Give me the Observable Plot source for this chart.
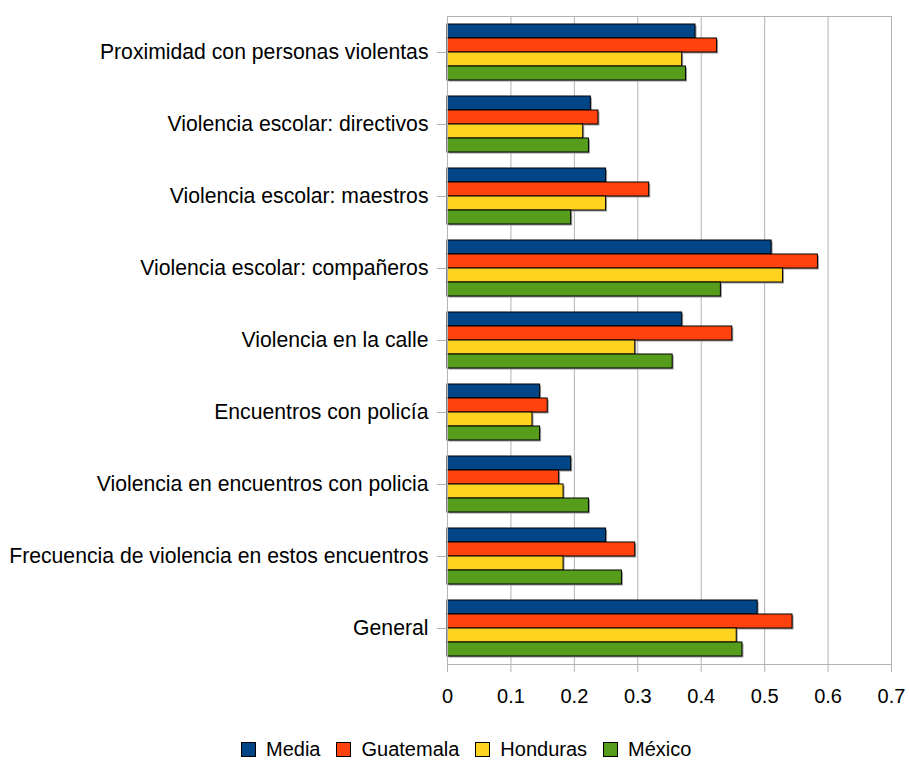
<!DOCTYPE html>
<html>
<head>
<meta charset="utf-8">
<script src="https://cdn.jsdelivr.net/npm/d3@7"></script>
<script src="https://cdn.jsdelivr.net/npm/@observablehq/plot@0.6"></script>
<style>
  body { margin: 0; background: #fff; font-family: "Liberation Sans", Arial, sans-serif; }
  #chart { width: 909px; }
  .legend { display: flex; justify-content: flex-start; align-items: center; padding-left: 241px; height: 24px; margin-top: 17px; font-size: 20px; color: #000; }
  .legend .item { display: flex; align-items: center; margin-right: 16px; }
  .legend .sw { width: 15px; height: 15px; border: 1px solid #000; margin-right: 10px; box-sizing: border-box; }
</style>
</head>
<body>
<div id="chart"></div>
<script>
const categories = [
  "Proximidad con personas violentas",
  "Violencia escolar: directivos",
  "Violencia escolar: maestros",
  "Violencia escolar: compañeros",
  "Violencia en la calle",
  "Encuentros con policía",
  "Violencia en encuentros con policia",
  "Frecuencia de violencia en estos encuentros",
  "General"
];
const seriesNames = ["Media", "Guatemala", "Honduras", "México"];
const seriesColors = ["#004586", "#ff420e", "#ffd320", "#579d1c"];
const media     = [0.391, 0.226, 0.250, 0.511, 0.370, 0.146, 0.195, 0.250, 0.489];
const guatemala = [0.425, 0.238, 0.318, 0.584, 0.449, 0.158, 0.176, 0.296, 0.544];
const honduras  = [0.370, 0.214, 0.250, 0.529, 0.296, 0.134, 0.183, 0.183, 0.456];
const mexico    = [0.376, 0.223, 0.195, 0.431, 0.355, 0.146, 0.223, 0.275, 0.465];
const xTicks = [0, 0.1, 0.2, 0.3, 0.4, 0.5, 0.6, 0.7];

const seriesValues = [media, guatemala, honduras, mexico];
const data = categories.flatMap((c, i) =>
  seriesNames.map((s, j) => ({category: c, series: s, value: seriesValues[j][i]}))
);

const chart = Plot.plot({
  width: 909,
  height: 720,
  marginLeft: 447,
  marginRight: 18,
  marginTop: 13,
  marginBottom: 54,
  style: {fontFamily: "'Liberation Sans', Arial, sans-serif", color: "#000", background: "#fff"},
  x: {domain: [0, 0.7]},
  y: {domain: seriesNames, axis: null, paddingInner: 0, paddingOuter: 0.5},
  fy: {domain: categories, padding: 0, label: null},
  color: {domain: seriesNames, range: seriesColors},
  marks: [
    Plot.gridX(xTicks, {stroke: "#b3b3b3", strokeOpacity: 1}),
    Plot.barX(data, {x: "value", y: "series", fy: "category", fill: "#9a9a9a", dx: 1.5, dy: 1.5}),
    Plot.barX(data, {x: "value", y: "series", fy: "category", fill: "series", stroke: "#000", strokeWidth: 1}),
    Plot.frame({facet: "super", stroke: "#b3b3b3"}),
    Plot.axisFy({anchor: "left", label: null, fontSize: 21.2, tickSize: 10, tickPadding: 9, stroke: "#b3b3b3", fill: "#000"}),
    Plot.axisX(xTicks, {label: null, tickFormat: d => `${+d.toFixed(1)}`, fontSize: 20, tickSize: 8, tickPadding: 16, stroke: "#b3b3b3", fill: "#000"})
  ]
});
document.getElementById("chart").append(chart);

const legend = document.createElement("div");
legend.className = "legend";
seriesNames.forEach((s, i) => {
  const item = document.createElement("div");
  item.className = "item";
  const sw = document.createElement("span");
  sw.className = "sw";
  sw.style.background = seriesColors[i];
  const t = document.createElement("span");
  t.textContent = s;
  item.append(sw, t);
  legend.append(item);
});
document.getElementById("chart").append(legend);
</script>
</body>
</html>
